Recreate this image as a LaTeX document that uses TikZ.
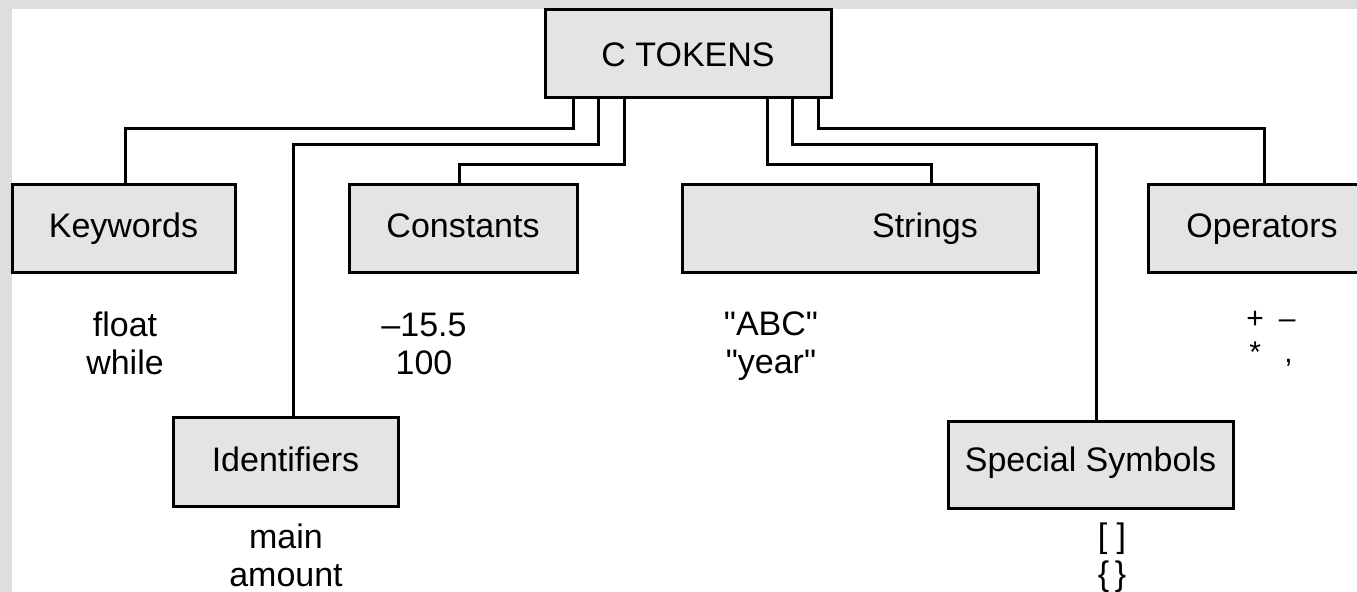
\documentclass[tikz,border=0pt]{standalone}
\usepackage{fontspec}
\setmainfont{Liberation Sans}
\newfontfamily\plainfont{Liberation Sans}
\definecolor{boxfill}{HTML}{E4E4E4}
\definecolor{framegray}{HTML}{DEDEDE}
\begin{document}
\begin{tikzpicture}[x=0.5pt,y=-0.5pt,
  tok/.style={draw=black,line width=1.5pt,fill=boxfill,minimum height=44pt,inner sep=0pt,
    text height=12.5pt,text depth=3.5pt,
    font=\fontsize{17pt}{20pt}\selectfont},
  lbl/.style={align=center,inner sep=0pt,anchor=base,font=\fontsize{17pt}{19pt}\selectfont},
  link/.style={line width=1.5pt}]
\useasboundingbox (0,0) rectangle (1357,592);
\fill[framegray] (0,0) rectangle (1357,9.5);
\fill[framegray] (0,0) rectangle (11.5,592);
\begin{scope}
\clip (0,0) rectangle (1357,592);
% boxes
\node[tok,minimum width=143pt,text depth=0pt] (ctok) at (688,54) {C TOKENS};
\node[tok,minimum width=111.5pt] (kw) at (123.5,229) {Keywords};
\node[tok,minimum width=114pt] (con) at (463,229) {Constants};
\node[tok,minimum width=178pt] (str) at (860,229) {\hspace*{65pt}Strings};
\node[tok,minimum width=114pt] (op) at (1262,229) {Operators};
\node[tok,minimum width=112.5pt,minimum height=44.5pt] (id) at (285.5,462.5) {Identifiers};
\node[tok,minimum width=142.5pt,minimum height=43.5pt,text depth=6.3pt] (ss) at (1090.5,465.5) {Special Symbols};
% connectors
\draw[link] ([xshift=-57.5pt]ctok.south) -- ++(0,29) -| ([xshift=0.75pt]kw.north);
\draw[link] ([xshift=-45pt]ctok.south) -- ++(0,45) -| ([xshift=3.75pt]id.north);
\draw[link] ([xshift=-32pt]ctok.south) -- ++(0,65) -| ([xshift=-2pt]con.north);
\draw[link] ([xshift=39.5pt]ctok.south) -- ++(0,65) -| ([xshift=35.5pt]str.north);
\draw[link] ([xshift=52pt]ctok.south) -- ++(0,45) -| ([xshift=2.75pt]ss.north);
\draw[link] ([xshift=65pt]ctok.south) -- ++(0,29) -| ([xshift=1pt]op.north);
% examples
\node[lbl] (kwex) at (125,375) {float\\while};
\node[lbl] (conex) at (424,375) {–15.5\\100};
\node[lbl,font=\plainfont\fontsize{17pt}{19pt}\selectfont] (strex) at (771,374) {"ABC"\\"year"};
\node[lbl,font=\fontsize{15pt}{17pt}\selectfont] (opex) at (1271,363) {+\enspace –\\*\enspace\ ,};
\node[lbl] (idex) at (286,587) {main\\amount};
\node[lbl] (ssex) at (1112,586) {[\;]\\\{\,\}};
\end{scope}
\end{tikzpicture}
\end{document}
